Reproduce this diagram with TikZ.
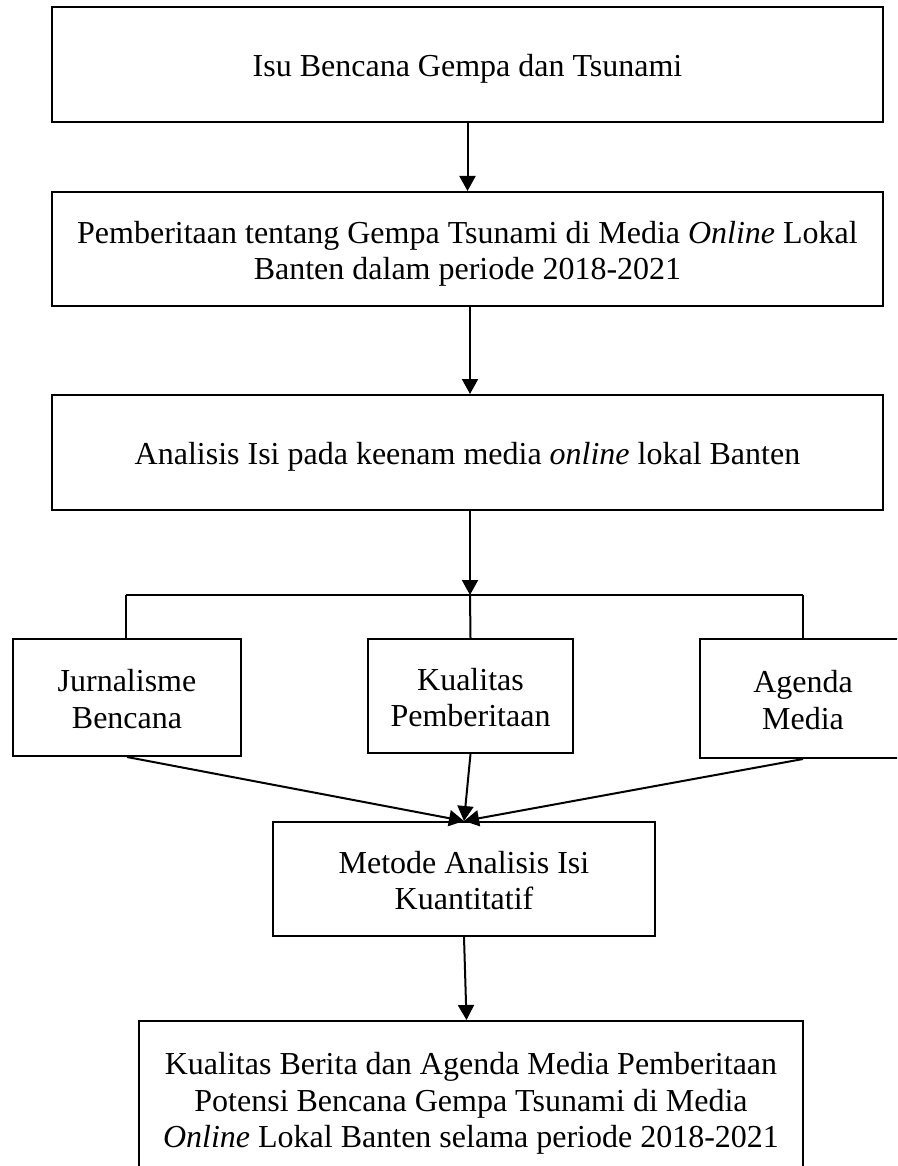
\documentclass[tikz,border=0pt]{standalone}
\usepackage{fontspec}
\setmainfont{Liberation Serif}
\usetikzlibrary{arrows.meta}
\newcommand{\bxt}[1]{\raisebox{0pt}[\dimexpr\height+10pt\relax][\depth]{\begin{tabular}{@{}c@{}}#1\end{tabular}}}
\begin{document}
\begin{tikzpicture}[x=1pt,y=-1pt,
  box/.style={draw,line width=2pt,inner sep=0pt,font=\fontsize{32}{36.5}\selectfont},
  arr/.style={line width=2pt,-{Triangle[length=15pt,width=16pt]}},
  ln/.style={line width=2pt}]
\useasboundingbox (0,0) rectangle (897,1166);
\clip (0,0) rectangle (897,1166);
\node[box,minimum width=831pt,minimum height=115pt] (b1) at (467.5,64.5) {\bxt{Isu Bencana Gempa dan Tsunami}};
\node[box,minimum width=831pt,minimum height=114pt] (b2) at (467.5,249) {\bxt{Pemberitaan tentang Gempa Tsunami di Media \textit{Online} Lokal\\Banten dalam periode 2018-2021}};
\node[box,minimum width=831pt,minimum height=115pt] (b3) at (467.5,452.5) {\bxt{Analisis Isi pada keenam media \textit{online} lokal Banten}};
\node[box,minimum width=228pt,minimum height=117pt] (jb) at (127,697.5) {\bxt{Jurnalisme\\Bencana}};
\node[box,minimum width=205pt,minimum height=114pt] (kp) at (470.5,696) {\bxt{Kualitas\\Pemberitaan}};
\node[box,minimum width=206pt,minimum height=119pt] (am) at (803,698.5) {\bxt{Agenda\\Media}};
\node[box,minimum width=382pt,minimum height=114pt] (mk) at (464,879) {\bxt{Metode Analisis Isi\\Kuantitatif}};
\node[box,minimum width=664pt,minimum height=156pt] (kb) at (471,1099) {\bxt{Kualitas Berita dan Agenda Media Pemberitaan\\Potensi Bencana Gempa Tsunami di Media\\\textit{Online} Lokal Banten selama periode 2018-2021}};
\coordinate (jn) at (470,595);
\coordinate (jl) at (126,595);
\coordinate (jr) at (803,595);
\draw[arr] (b1.south) -- (b2.north);
\draw[arr] ([xshift=2.5pt]b2.south) -- ([xshift=2.5pt]b3.north);
\draw[arr] (jn |- b3.south) -- (jn);
\draw[ln] (jl) -- (jr);
\draw[ln] (jl) -- (jl |- jb.north);
\draw[ln] (jn) -- (kp.north);
\draw[ln] (jr) -- (am.north);
\draw[arr] (jb.south) -- (mk.north);
\draw[arr] (kp.south) -- (mk.north);
\draw[arr] (am.south) -- (mk.north);
\draw[arr] (mk.south) -- ([xshift=2.5pt]mk.south |- kb.north);
\end{tikzpicture}
\end{document}
